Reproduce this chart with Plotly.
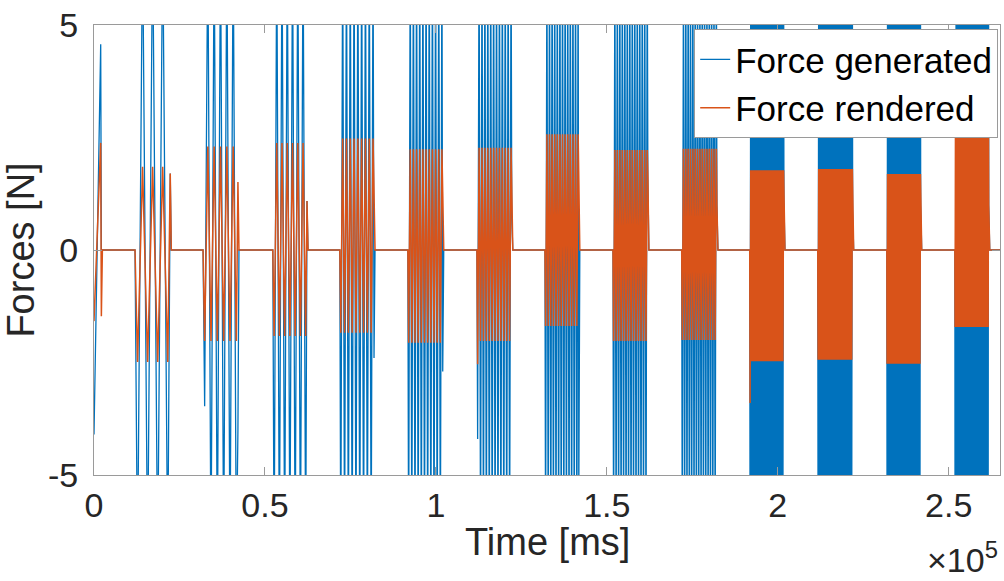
import plotly.graph_objects as go

# ---- Lead-in segment at t = 0 (partial stroke already in progress) ----
lead_t_ms = [0, 1960, 2150, 2450]
lead_generated = [-4.1, 4.57, 0.0, 0.0]
lead_rendered = [-1.58, 2.38, -1.47, 0.0]

# ---- Excitation bursts ----
burst_start_ms = [12000, 31900, 52300, 71900, 91800, 112000, 131900,
                  151800, 171900, 191800, 211700, 231900, 251800]
burst_end_ms = [22300, 42100, 62300, 81900, 102000, 122200, 141800,
                162000, 182200, 201800, 221900, 241800, 261700]
# number of extremes (half cycles) in each burst
burst_extremes = [7, 11, 13, 18, 22, 24, 26, 28, 30, 50, 56, 70, 90]

# generated force peak level (exceeds the +/-5 N window) and first/last stroke
generated_peak = [7.0] * 13
generated_head = [-7.0, -3.47, -7.0, -7.0, -7.0, -4.2, -7.0,
                  -7.0, -7.0, -7.0, -7.0, -7.0, -7.0]
generated_tail = [1.7, -4.0, 1.09, -2.4, -2.7, 0.69, -5.5,
                  1.64, 1.0, 1.09, 0.87, 1.0, 1.0]

# rendered force upper / lower peak levels, first and last stroke
rendered_high = [1.85, 2.30, 2.38, 2.48, 2.24, 2.27, 2.57,
                 2.22, 2.25, 1.77, 1.80, 1.69, 2.49]
rendered_low = [-2.49, -2.02, -1.91, -1.84, -2.06, -2.02, -1.69,
                -2.02, -2.00, -2.47, -2.44, -2.53, -1.71]
rendered_head = [-2.49, -2.02, -1.91, -1.84, -2.06, -2.54, -1.69,
                 -2.02, -2.00, -3.40, -2.44, -2.53, -1.71]
rendered_tail = [1.70, 1.51, 1.09, 0.76, 0.93, 0.69, 1.60,
                 1.64, 1.00, 1.09, 0.87, 1.00, 1.00]

t_max_ms = 265000


def assemble(lead, highs, lows, heads, tails):
    t = list(lead_t_ms)
    y = list(lead)
    for i, (t0, t1, n) in enumerate(zip(burst_start_ms, burst_end_ms, burst_extremes)):
        t.append(t0)
        y.append(0.0)
        step = (t1 - t0) / n
        for k in range(n):
            t.append(t0 + (k + 0.5) * step)
            if k == 0:
                y.append(heads[i])
            else:
                y.append(lows[i] if k % 2 == 0 else highs[i])
        t.append(t1)
        y.append(tails[i])
        t.append(t1 + 300)
        y.append(0.0)
    t.append(t_max_ms)
    y.append(0.0)
    return t, y


gen_t, gen_y = assemble(lead_generated, generated_peak,
                        [-v for v in generated_peak], generated_head, generated_tail)
ren_t, ren_y = assemble(lead_rendered, rendered_high, rendered_low,
                        rendered_head, rendered_tail)

BLUE = "#0072BD"
ORANGE = "#D95319"
FONT = "Liberation Sans, Arial, Helvetica, sans-serif"
AXIS = "#9a9a9a"
TEXT = "#262626"

fig = go.Figure()
fig.add_trace(go.Scatter(x=gen_t, y=gen_y, mode="lines", name="Force generated",
                         line=dict(color=BLUE, width=1.3)))
fig.add_trace(go.Scatter(x=ren_t, y=ren_y, mode="lines", name="Force rendered",
                         line=dict(color=ORANGE, width=1.5)))

x_ticks = [0, 50000, 100000, 150000, 200000, 250000]
x_tick_text = ["0", "0.5", "1", "1.5", "2", "2.5"]
y_ticks = [-5, 0, 5]

fig.update_layout(
    width=1004, height=581,
    margin=dict(l=94, r=4, t=25, b=106),
    paper_bgcolor="white", plot_bgcolor="white",
    font=dict(family=FONT, color=TEXT, size=34),
    showlegend=True,
    legend=dict(x=0.998, y=0.991, xanchor="right", yanchor="top",
                bgcolor="white", bordercolor=AXIS, borderwidth=1,
                font=dict(size=35, color="black"),
                tracegroupgap=0, itemwidth=30),
    xaxis=dict(range=[0, t_max_ms], tickvals=x_ticks, ticktext=x_tick_text,
               ticks="inside", ticklen=8, tickcolor=AXIS, tickwidth=1,
               showline=True, linecolor=AXIS, linewidth=1, mirror="ticks",
               showgrid=False, zeroline=False, ticklabelstandoff=0),
    yaxis=dict(range=[-5, 5], tickvals=y_ticks, ticktext=["-5", "0", "5"],
               ticks="inside", ticklen=8, tickcolor=AXIS, tickwidth=1,
               showline=True, linecolor=AXIS, linewidth=1, mirror="ticks",
               showgrid=False, zeroline=False, ticklabelstandoff=8,
               title=dict(text="Forces [N]", font=dict(size=38), standoff=4)),
    annotations=[
        dict(text="Time [ms]", xref="paper", yref="paper",
             x=0.5, y=-0.148, xanchor="center", yanchor="middle",
             showarrow=False, font=dict(size=38, color=TEXT)),
        dict(text="\u00d710<sup>5</sup>", xref="paper", yref="paper",
             x=1.0, y=-0.13, xanchor="right", yanchor="top",
             showarrow=False, font=dict(size=34, color=TEXT)),
    ],
)

fig.write_html("out.html")
